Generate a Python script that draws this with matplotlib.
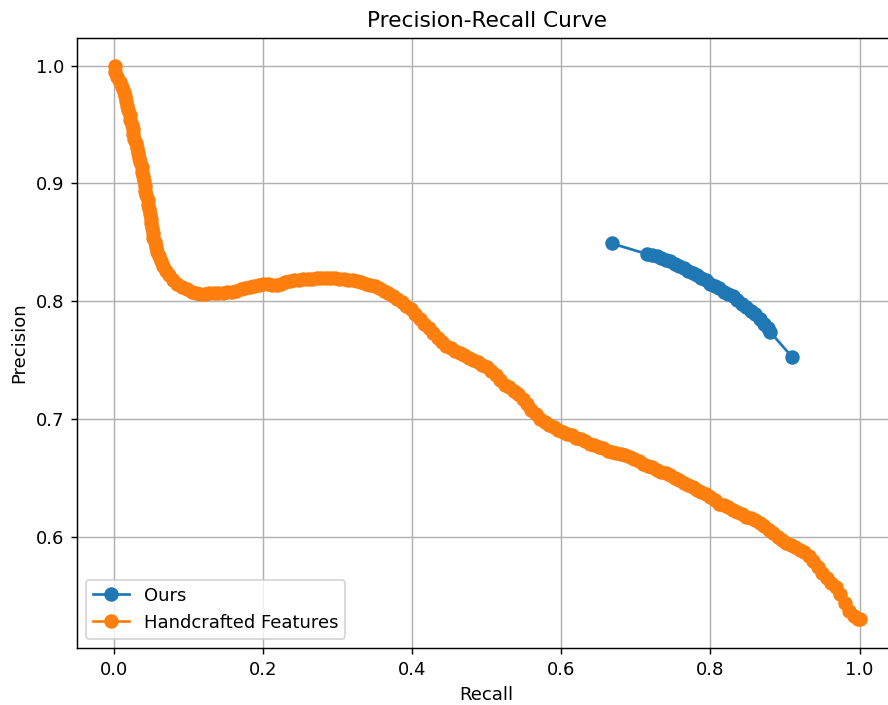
import matplotlib
matplotlib.use("Agg")
import matplotlib.pyplot as plt

ours_recall = [0.668, 0.715, 0.722, 0.728, 0.734, 0.740, 0.746, 0.752, 0.758, 0.764,
               0.770, 0.776, 0.782, 0.788, 0.794, 0.800, 0.806, 0.812, 0.818, 0.824,
               0.830, 0.836, 0.842, 0.848, 0.854, 0.860, 0.866, 0.872, 0.877, 0.880,
               0.909]
ours_precision = [0.849, 0.840, 0.839, 0.838, 0.837, 0.835, 0.834, 0.832, 0.830, 0.828,
                  0.826, 0.824, 0.822, 0.820, 0.818, 0.815, 0.813, 0.811, 0.808, 0.806,
                  0.804, 0.801, 0.798, 0.795, 0.792, 0.789, 0.785, 0.781, 0.777, 0.774,
                  0.753]

hand_recall = [
    0.001, 0.002, 0.004, 0.008, 0.011, 0.013, 0.015, 0.016, 0.018, 0.019,
    0.021, 0.022, 0.024, 0.025, 0.026, 0.027, 0.029, 0.031, 0.032, 0.034,
    0.035, 0.037, 0.038, 0.039, 0.040, 0.041, 0.042, 0.043, 0.045, 0.046,
    0.047, 0.048, 0.049, 0.050, 0.051, 0.052, 0.053, 0.055, 0.056, 0.058,
    0.060, 0.063, 0.066, 0.070, 0.074, 0.079, 0.085, 0.091, 0.098, 0.104,
    0.110, 0.116,
    0.122, 0.128, 0.134, 0.140, 0.146, 0.152, 0.158, 0.164, 0.170, 0.176,
    0.182, 0.188, 0.194, 0.200, 0.206, 0.212, 0.218, 0.224, 0.230, 0.236,
    0.242, 0.248, 0.254, 0.260, 0.266, 0.272, 0.278, 0.284, 0.290, 0.296,
    0.302, 0.308, 0.314, 0.320, 0.326, 0.332, 0.338, 0.344, 0.350, 0.356,
    0.362, 0.368, 0.374, 0.380, 0.386, 0.392, 0.398, 0.404, 0.410, 0.416,
    0.422, 0.428, 0.434, 0.440, 0.446, 0.452, 0.458, 0.464, 0.470, 0.476,
    0.482, 0.488, 0.494, 0.500, 0.506, 0.512, 0.518, 0.524, 0.530, 0.536,
    0.542, 0.548, 0.554, 0.560, 0.566, 0.572, 0.578, 0.584, 0.590, 0.596,
    0.602, 0.608, 0.614, 0.620, 0.626, 0.632, 0.638, 0.644, 0.650, 0.656,
    0.662, 0.668, 0.674, 0.680, 0.686, 0.692, 0.698, 0.704, 0.710, 0.716,
    0.722, 0.728, 0.734, 0.740, 0.746, 0.752, 0.758, 0.764, 0.770, 0.776,
    0.782, 0.788, 0.794, 0.800, 0.806, 0.812, 0.818, 0.824, 0.830, 0.836,
    0.842, 0.848, 0.854, 0.860, 0.866, 0.872, 0.878, 0.884, 0.890, 0.896,
    0.902, 0.908, 0.914, 0.920, 0.926, 0.932, 0.938, 0.944, 0.950, 0.956,
    0.962, 0.968, 0.974, 0.980, 0.986, 0.992, 0.998, 1.000]
hand_precision = [
    1.000, 0.995, 0.990, 0.986, 0.982, 0.978, 0.974, 0.970, 0.966, 0.962,
    0.958, 0.954, 0.950, 0.946, 0.942, 0.938, 0.934, 0.930, 0.926, 0.922,
    0.918, 0.914, 0.910, 0.906, 0.902, 0.898, 0.894, 0.890, 0.886, 0.882,
    0.878, 0.874, 0.870, 0.866, 0.862, 0.858, 0.854, 0.850, 0.846, 0.842,
    0.838, 0.834, 0.830, 0.826, 0.822, 0.818, 0.815, 0.812, 0.810, 0.808,
    0.807, 0.806,
    0.806, 0.807, 0.807, 0.807, 0.807, 0.808, 0.808, 0.809, 0.810, 0.811,
    0.812, 0.813, 0.814, 0.815, 0.815, 0.814, 0.814, 0.815, 0.816, 0.817,
    0.818, 0.818, 0.819, 0.819, 0.819, 0.820, 0.820, 0.820, 0.820, 0.820,
    0.819, 0.819, 0.818, 0.818, 0.817, 0.816, 0.815, 0.814, 0.813, 0.811,
    0.809, 0.807, 0.804, 0.802, 0.799, 0.796, 0.793, 0.789, 0.785, 0.781,
    0.777, 0.773, 0.769, 0.765, 0.762, 0.760, 0.758, 0.756, 0.754, 0.752,
    0.750, 0.748, 0.746, 0.744, 0.741, 0.737, 0.733, 0.729, 0.727, 0.724,
    0.721, 0.717, 0.713, 0.708, 0.704, 0.700, 0.697, 0.695, 0.693, 0.691,
    0.689, 0.687, 0.686, 0.684, 0.683, 0.681, 0.679, 0.678, 0.676, 0.675,
    0.673, 0.672, 0.671, 0.670, 0.669, 0.668, 0.666, 0.664, 0.662, 0.660,
    0.659, 0.657, 0.655, 0.654, 0.652, 0.650, 0.648, 0.646, 0.644, 0.642,
    0.640, 0.638, 0.636, 0.634, 0.631, 0.628, 0.627, 0.625, 0.623, 0.621,
    0.619, 0.617, 0.616, 0.614, 0.612, 0.609, 0.606, 0.603, 0.600, 0.597,
    0.595, 0.593, 0.591, 0.589, 0.587, 0.584, 0.579, 0.574, 0.569, 0.565,
    0.561, 0.557, 0.551, 0.544, 0.537, 0.533, 0.530, 0.530]

W, H, DPI = 888, 705, 130
fig = plt.figure(figsize=(W / DPI, H / DPI), dpi=DPI)
left_px, right_px, top_px, bottom_px = 76.7, 896.8, 38, 648
ax = fig.add_axes([left_px / W, (H - bottom_px) / H,
                   (right_px - left_px) / W, (bottom_px - top_px) / H])

ax.plot(ours_recall, ours_precision, marker='o', markersize=7, label='Ours')
ax.plot(hand_recall, hand_precision, marker='o', markersize=7,
        label='Handcrafted Features')

ax.set_xlim(-0.05, 1.05)
ax.set_ylim(0.5055, 1.0235)
ax.set_xticks([0.0, 0.2, 0.4, 0.6, 0.8, 1.0])
ax.set_yticks([0.6, 0.7, 0.8, 0.9, 1.0])
ax.set_xlabel('Recall')
ax.set_ylabel('Precision')
ax.set_title('Precision-Recall Curve')
ax.grid(True)
ax.legend(loc='lower left')

fig.savefig('out.png', dpi=DPI)
